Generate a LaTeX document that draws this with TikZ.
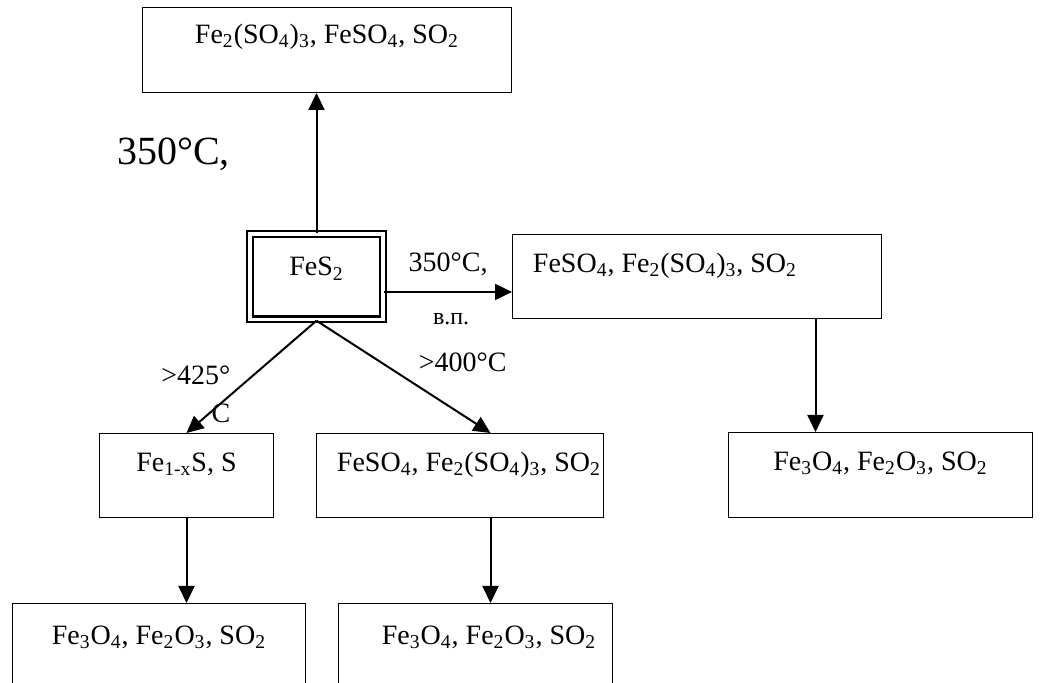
\documentclass[tikz,border=0pt]{standalone}
\usepackage{fontspec}
\setmainfont{Liberation Serif}
\usetikzlibrary{arrows.meta}
\newcommand{\ssub}[1]{\textsubscript{#1}}

\begin{document}
\begin{tikzpicture}[
    x=0.5pt, y=-0.5pt,
    box/.style={draw, line width=0.5pt, inner sep=0pt, text height=19pt, text depth=23pt, font=\fontsize{14}{16}\selectfont},
    src/.style={draw, double, line width=1.2pt, double distance=1.6pt, inner sep=0pt, minimum width=66.5pt, text height=21pt, text depth=21.75pt, font=\fontsize{14}{16}\selectfont},
    flow/.style={-{Triangle[length=8.5pt, width=8pt]}, line width=1pt},
    lbl/.style={inner sep=0pt, font=\fontsize{14}{19}\selectfont},
    lblbig/.style={inner sep=0pt, font=\fontsize{20}{24}\selectfont},
    lblsmall/.style={inner sep=0pt, font=\fontsize{12}{14}\selectfont}
]
\clip (0,0) rectangle (1040,683);

\node[src] (fes) at (316.5,276.75) {FeS\ssub{2}};
\node[box, anchor=north west, minimum width=184.5pt, text height=18pt, text depth=24.5pt] (top) at (142,7) {Fe\ssub{2}(SO\ssub{4})\ssub{3}, FeSO\ssub{4}, SO\ssub{2}};
\node[box, anchor=north west, minimum width=184.5pt] (right) at (512,234) {FeSO\ssub{4}, Fe\ssub{2}(SO\ssub{4})\ssub{3}, SO\ssub{2}\hspace*{32pt}};
\node[box, anchor=north west, minimum width=152pt, text depth=23.5pt] (rb) at (728,432) {Fe\ssub{3}O\ssub{4}, Fe\ssub{2}O\ssub{3}, SO\ssub{2}};

\node[box, anchor=north west, minimum width=87pt] (m1) at (99,433) {Fe\ssub{1-x}S, S};
\node[box, anchor=north west, minimum width=143.5pt] (m2) at (316,433) {\hspace*{9pt}FeSO\ssub{4}, Fe\ssub{2}(SO\ssub{4})\ssub{3}, SO\ssub{2}};

\node[box, anchor=north west, minimum width=146.5pt, text height=20.5pt, text depth=39.5pt] (b1) at (12,603) {Fe\ssub{3}O\ssub{4}, Fe\ssub{2}O\ssub{3}, SO\ssub{2}};
\node[box, anchor=north west, minimum width=137pt, text height=20.5pt, text depth=39.5pt] (b2) at (338,603) {\hspace*{13.5pt}Fe\ssub{3}O\ssub{4}, Fe\ssub{2}O\ssub{3}, SO\ssub{2}};

% up and right from the pyrite
\draw[flow] (fes.north) -- node[lblbig, pos=0.49, anchor=base, xshift=-71.5pt] {350°C,} (fes.north |- top.south);
\coordinate (fesout) at ([yshift=-7.6pt]fes.east);
\draw[flow] (fesout) -- node[lbl, anchor=base, yshift=10pt] {350°C,} node[lblsmall, anchor=base, xshift=1.5pt, yshift=-16.5pt] {в.п.} (fesout -| right.west);

% down the two branches
\draw[flow] (fes.south) -- node[lbl, pos=0.57, anchor=base east, align=right, xshift=-5.5pt, yshift=-19pt] {>425°\\C} (m1.north);
\draw[flow] (fes.south) -- node[lbl, pos=0.456, anchor=base west, xshift=11pt] {>400°C} ([xshift=15.25pt]m2.north);

\coordinate (rdown) at ([xshift=59.25pt]right.south);
\draw[flow] (rdown) -- (rdown |- rb.north);
\draw[flow] (m1.south) -- (m1.south |- b1.north);
\coordinate (mdown) at ([xshift=15.25pt]m2.south);
\draw[flow] (mdown) -- (mdown |- b2.north);
\end{tikzpicture}
\end{document}
